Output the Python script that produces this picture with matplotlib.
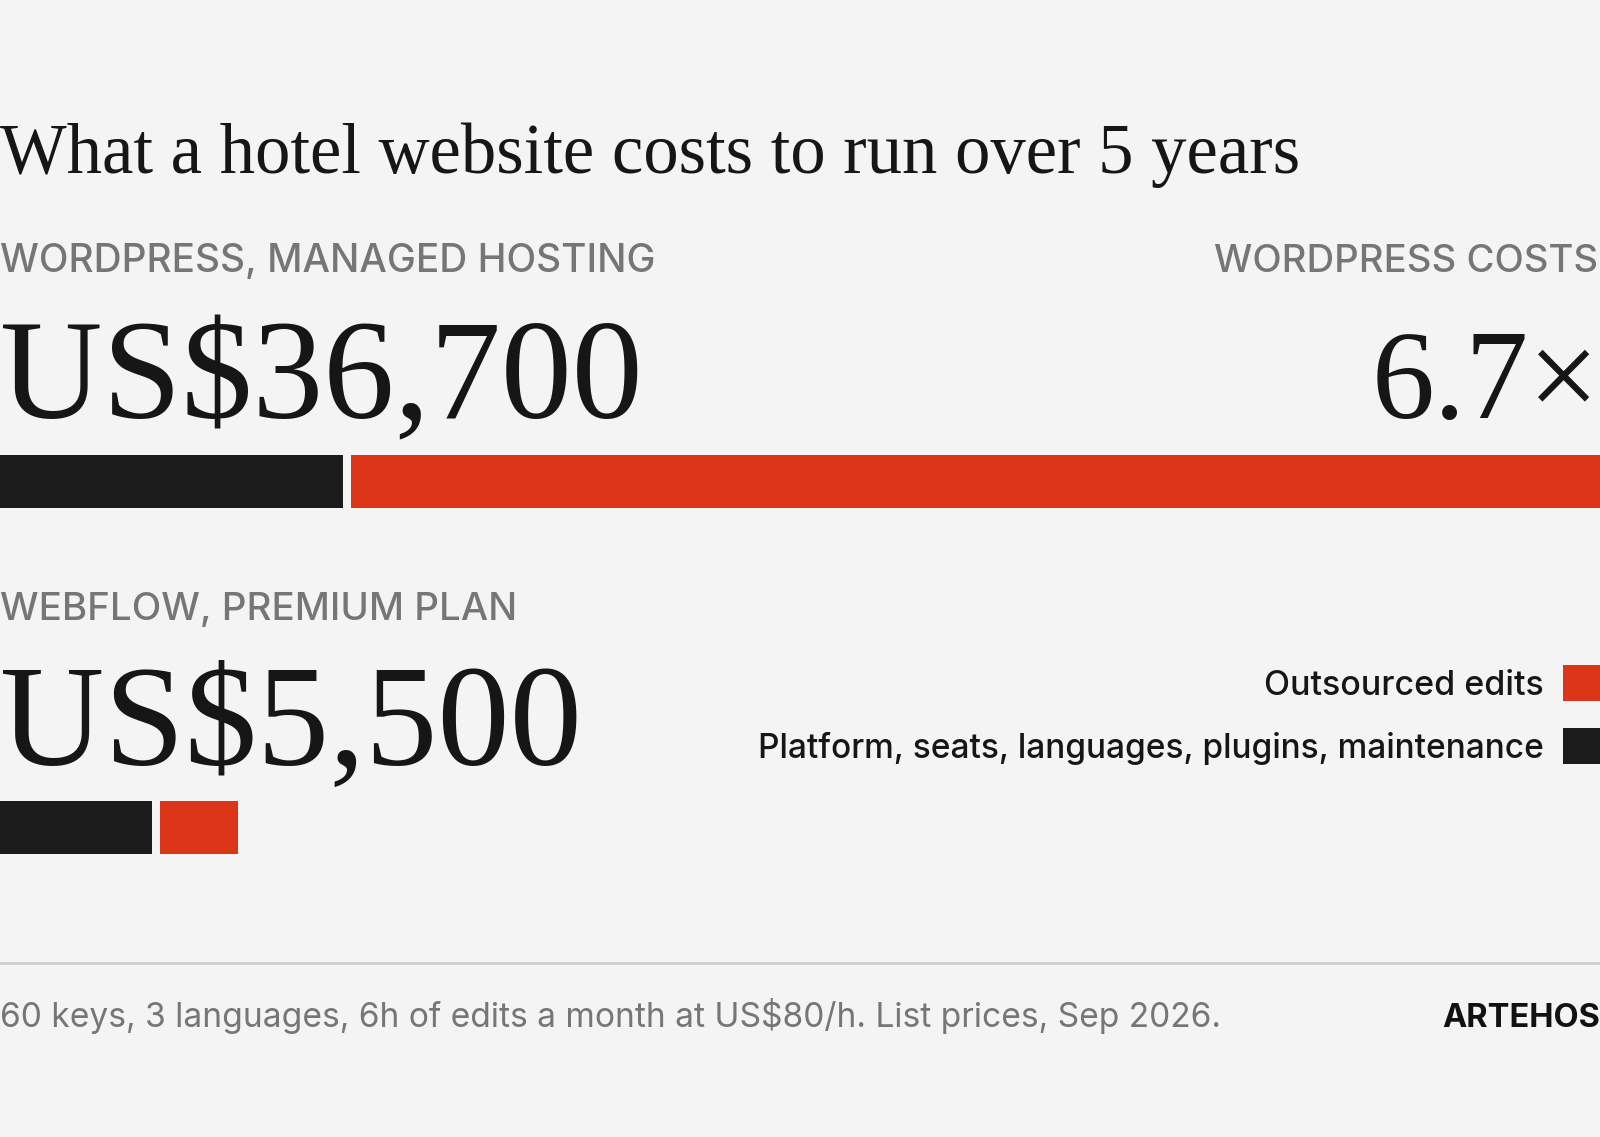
import matplotlib
matplotlib.use('Agg')
import matplotlib.pyplot as plt

# 数据：两种方案的五年成本构成（美元）
plans = ['WORDPRESS, MANAGED HOSTING', 'WEBFLOW, PREMIUM PLAN']
totals = ['US$36,700', 'US$5,500']
platform_costs = [7900, 3500]      # Platform, seats, languages, plugins, maintenance
edit_costs = [28800, 1800]         # Outsourced edits
ratio_label = '6.7×'
ratio_caption = 'WORDPRESS COSTS'
legend_labels = ['Outsourced edits', 'Platform, seats, languages, plugins, maintenance']
title = 'What a hotel website costs to run over 5 years'
footnote = '60 keys, 3 languages, 6h of edits a month at US$80/h. List prices, Sep 2026.'
brand = 'ARTEHOS'

# 样式
BG = '#f4f4f4'
RED = '#dd3518'
BLACK = '#1b1b1b'
GRAY = '#767676'
SERIF = ['Liberation Serif', 'DejaVu Serif']
SANS = ['Inter', 'DejaVu Sans']
W, H = 1600, 1137
GAP = 200          # gap between segments, in data units
BAR_H = 53

fig = plt.figure(figsize=(16, 11.37), dpi=100)
fig.patch.set_facecolor(BG)
renderer = fig.canvas.get_renderer()


def px(x, y):
    return x / W, 1 - y / H


def put(x, y, s, width, **kw):
    t = fig.text(*px(x, y), s, va='baseline', **kw)
    bb = t.get_window_extent(renderer)
    t.set_fontsize(t.get_fontsize() * width / bb.width)
    return t


# 柱状图
ax = fig.add_axes([0, 0, 1, 1])
ax.set_facecolor('none')
ax.set_xlim(0, platform_costs[0] + edit_costs[0] + GAP)
ax.set_ylim(H, 0)
ax.axis('off')

row_y = [481, 827]
for yc, p, e in zip(row_y, platform_costs, edit_costs):
    ax.barh(yc, p, left=0, height=BAR_H, color=BLACK)
    ax.barh(yc, e, left=p + GAP, height=BAR_H, color=RED)

# 标题
put(0, 173, title, 1302, fontsize=50, family=SERIF, color='#161616')

# 方案名称与总额
put(0, 272, plans[0], 655, fontsize=24, family=SANS, color=GRAY, fontweight='medium')
put(0, 418, totals[0], 643, fontsize=100, family=SERIF, color='#161616')
put(0, 620, plans[1], 516, fontsize=24, family=SANS, color=GRAY, fontweight='medium')
put(0, 765, totals[1], 582, fontsize=100, family=SERIF, color='#161616')

# 倍数
put(1598, 272, ratio_caption, 384, fontsize=24, family=SANS, color=GRAY,
    fontweight='medium', ha='right')
put(1600, 418, ratio_label, 228, fontsize=100, family=SERIF, color='#161616', ha='right')

# 图例
leg_y = [683, 746]
leg_colors = [RED, BLACK]
leg_w = [279, 786]
for yc, lab, c, w in zip(leg_y, legend_labels, leg_colors, leg_w):
    ax.barh(yc, 1600, left=ax.get_xlim()[1] * 1563 / W, height=36, color=c)
    put(1544, yc + 12, lab, w, fontsize=24, family=SANS, color='#161616',
        fontweight='medium', ha='right')

# 分隔线与脚注
ax.axhline(963, color='#d0d0d0', lw=2)
put(0, 1027, footnote, 1219, fontsize=23, family=SANS, color=GRAY)
put(1600, 1027, brand, 158, fontsize=23, family=SANS, color='#111111',
    fontweight='bold', ha='right')

fig.savefig('out.png', dpi=100, facecolor=BG)
